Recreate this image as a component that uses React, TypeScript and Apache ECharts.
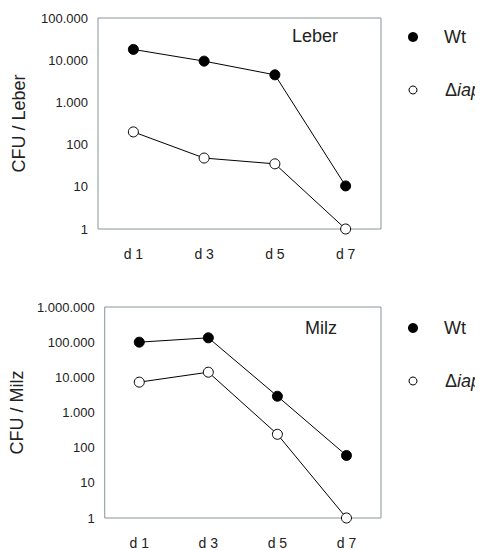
import React, { useEffect, useRef } from "react";
import * as echarts from "echarts";

const categories = ["d 1", "d 3", "d 5", "d 7"];
const leberWt = [18000, 9500, 4500, 10.5];
const leberIap = [200, 48, 35, 1];
const milzWt = [100000, 133000, 2900, 60];
const milzIap = [7300, 14000, 240, 1];
const leberMax = 100000;
const milzMax = 1000000;

const FONT = "Liberation Sans, Arial, Helvetica, sans-serif";
const FRAME = "#8a9499";

const fmt = (v: number) =>
  String(Math.round(v)).replace(/\B(?=(\d{3})+(?!\d))/g, ".");

export default function App() {
  const ref = useRef<HTMLDivElement>(null);
  useEffect(() => {
    if (!ref.current) return;
    const chart = echarts.init(ref.current, undefined, { renderer: "svg" });
    const grids = [
      { left: 98, top: 18, width: 283, height: 211 },
      { left: 98, top: 307, width: 283, height: 212 },
    ];
    const xAxis = grids.map((_, i) => ({
      type: "category",
      gridIndex: i,
      data: categories,
      boundaryGap: true,
      axisLine: { show: false },
      axisTick: { show: false },
      axisLabel: { color: "#222", fontFamily: FONT, fontSize: 14, margin: 18 },
    }));
    const yNames = ["CFU / Leber", "CFU / Milz"];
    const yMax = [leberMax, milzMax];
    const yAxis = grids.map((_, i) => ({
      type: "log",
      logBase: 10,
      gridIndex: i,
      min: 1,
      max: yMax[i],
      splitNumber: i === 0 ? 5 : 6,
      name: yNames[i],
      nameLocation: "middle",
      nameGap: 70,
      nameTextStyle: { color: "#222", fontFamily: FONT, fontSize: 18 },
      axisLine: { show: false },
      axisTick: { show: false },
      splitLine: { show: false },
      axisLabel: {
        color: "#222",
        fontFamily: FONT,
        fontSize: 13,
        margin: 10,
        formatter: (v: number) => fmt(v),
      },
    }));
    const mk = (name: string, data: number[], idx: number, filled: boolean) => ({
      name,
      type: "line",
      xAxisIndex: idx,
      yAxisIndex: idx,
      data,
      symbol: "circle",
      symbolSize: 10,
      lineStyle: { color: "#000", width: 1 },
      itemStyle: filled
        ? { color: "#000", borderColor: "#000", borderWidth: 1 }
        : { color: "#fff", borderColor: "#000", borderWidth: 1 },
      z: filled ? 3 : 2,
    });
    const legendGraphic = (y0: number) => [
      { type: "circle", shape: { cx: 413, cy: y0, r: 5 }, style: { fill: "#000" } },
      {
        type: "text",
        x: 444,
        y: y0,
        style: { text: "Wt", fontSize: 18, fontFamily: FONT, fill: "#222", verticalAlign: "middle" },
      },
      {
        type: "circle",
        shape: { cx: 413, cy: y0 + 53, r: 4 },
        style: { fill: "#fff", stroke: "#000", lineWidth: 1 },
      },
      {
        type: "text",
        x: 445,
        y: y0 + 53,
        style: {
          text: "{a|Δ}{b|iap}",
          verticalAlign: "middle",
          rich: {
            a: { fontSize: 18, fontFamily: FONT, fill: "#222" },
            b: { fontSize: 18, fontFamily: FONT, fontStyle: "italic", fill: "#222" },
          },
        },
      },
    ];
    chart.setOption({
      animation: false,
      backgroundColor: "#fff",
      grid: grids.map((g) => ({ ...g, show: true, borderColor: FRAME, borderWidth: 1, backgroundColor: "transparent" })),
      xAxis,
      yAxis,
      series: [
        mk("Wt", leberWt, 0, true),
        mk("Δiap", leberIap, 0, false),
        mk("Wt ", milzWt, 1, true),
        mk("Δiap ", milzIap, 1, false),
      ],
      graphic: [
        {
          type: "text",
          x: 315,
          y: 36,
          style: { text: "Leber", fontSize: 18, fontFamily: FONT, fill: "#222", align: "center", verticalAlign: "middle" },
        },
        {
          type: "text",
          x: 321,
          y: 328,
          style: { text: "Milz", fontSize: 18, fontFamily: FONT, fill: "#222", align: "center", verticalAlign: "middle" },
        },
        ...legendGraphic(37),
        ...legendGraphic(328),
      ],
    });
    return () => chart.dispose();
  }, []);
  return <div ref={ref} style={{ width: 483, height: 550, marginLeft: -8, marginTop: -8 }} />;
}
